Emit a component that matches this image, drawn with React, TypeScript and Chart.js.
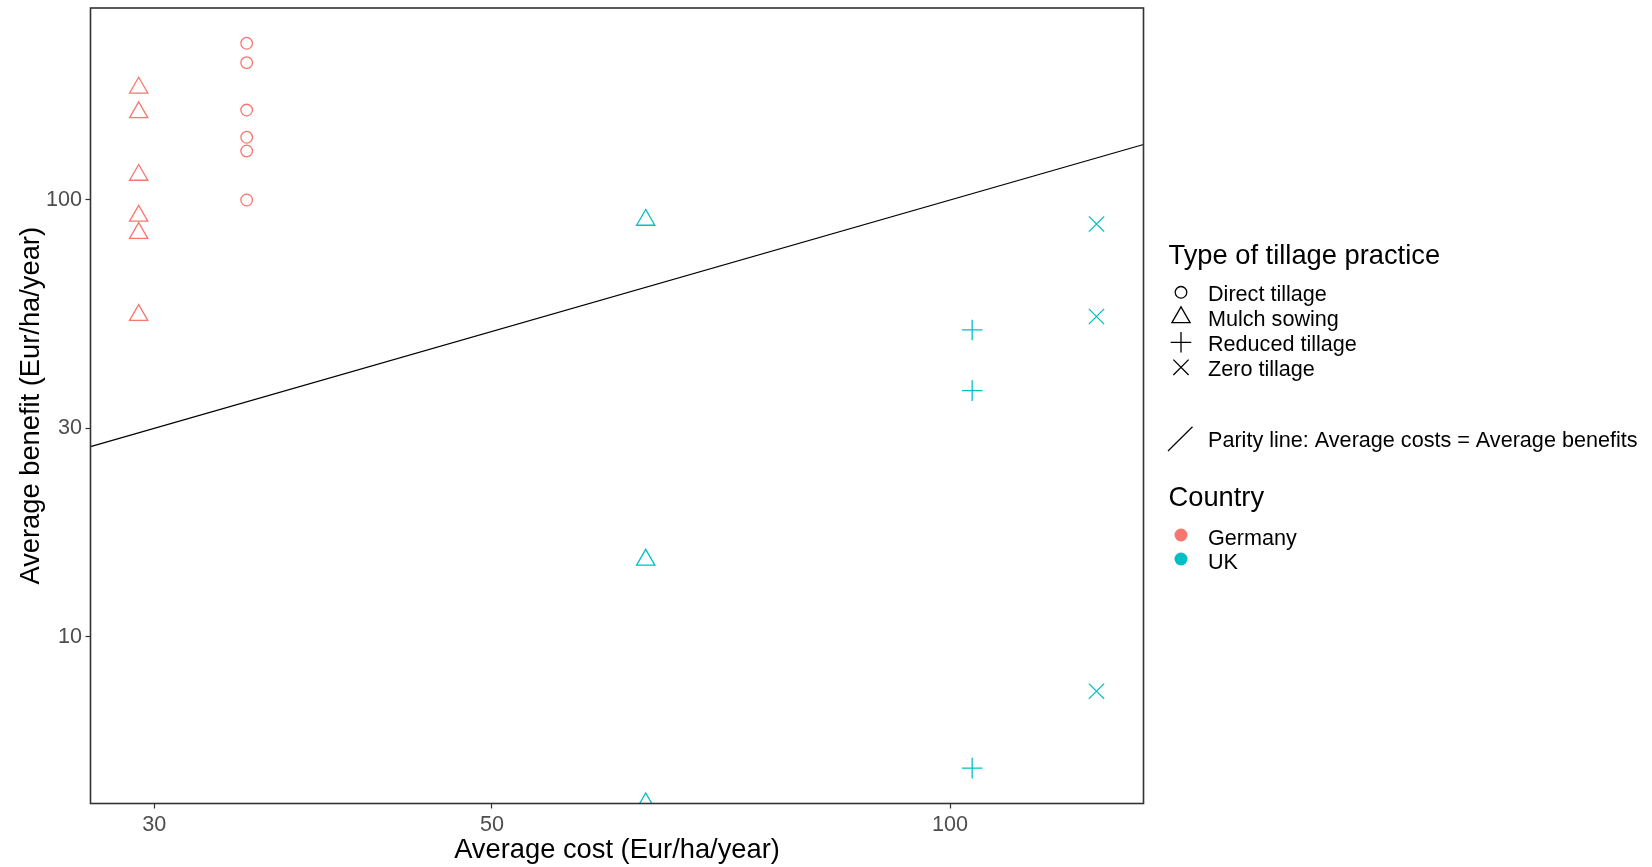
import { useEffect, useRef } from "react";
import { Chart, registerables } from "chart.js";

Chart.register(...registerables);

const FONT = '"Liberation Sans", Arial, Helvetica, sans-serif';
const GERMANY = "#F8766D";
const UK = "#00BFC4";

// Average cost per practice and country (x) with the benefits reported for it (y)
const germanyDirectCost = 34.5;
const germanyDirectBenefits = [228.5, 206.3, 160.7, 139.2, 129.5, 100];
const germanyMulchCost = 29.3;
const germanyMulchBenefits = [180.7, 158.7, 114.1, 92.0, 84.0, 54.5];
const ukMulchCost = 63.1;
const ukMulchBenefits = [90, 15, 4.15];
const ukReducedCost = 103.4;
const ukReducedBenefits = [50.4, 36.6, 5.0];
const ukZeroCost = 124.8;
const ukZeroBenefits = [88.1, 54.1, 7.5];

// Axis ticks and log-axis limits
const xTicks = [30, 50, 100];
const yTicks = [10, 30, 100];
const xRange = [27.24, 134.0];
const yRange = [4.15, 275.2];

const shapeLegend = [
  { label: "Direct tillage", style: "circle" },
  { label: "Mulch sowing", style: "triangle" },
  { label: "Reduced tillage", style: "cross" },
  { label: "Zero tillage", style: "crossRot" },
];
const countryLegend = [
  { label: "Germany", color: GERMANY },
  { label: "UK", color: UK },
];
const parityLabel = "Parity line: Average costs = Average benefits";

const pointRadius: Record<string, number> = {
  circle: 5.8,
  triangle: 10.5,
  cross: 10.3,
  crossRot: 10.8,
};

const toPoints = (cost: number, benefits: number[]) =>
  benefits.map((b) => ({ x: cost, y: b }));

function pointSet(label: string, cost: number, benefits: number[], style: string, color: string) {
  return {
    type: "scatter" as const,
    label,
    data: toPoints(cost, benefits),
    pointStyle: style,
    pointRadius: pointRadius[style],
    pointHoverRadius: pointRadius[style],
    pointBorderColor: color,
    pointBackgroundColor: "rgba(0,0,0,0)",
    pointBorderWidth: 1.3,
    borderColor: color,
    backgroundColor: "rgba(0,0,0,0)",
    showLine: false,
  };
}

function drawShape(ctx: CanvasRenderingContext2D, style: string, x: number, y: number, color: string) {
  const r = pointRadius[style];
  ctx.save();
  ctx.strokeStyle = color;
  ctx.lineWidth = 1.3;
  ctx.beginPath();
  if (style === "circle") {
    ctx.arc(x, y, r, 0, Math.PI * 2);
  } else if (style === "triangle") {
    for (let k = 0; k < 3; k++) {
      const a = (k * 2 * Math.PI) / 3;
      const px = x + Math.sin(a) * r;
      const py = y - Math.cos(a) * r;
      if (k === 0) ctx.moveTo(px, py);
      else ctx.lineTo(px, py);
    }
    ctx.closePath();
  } else if (style === "cross") {
    ctx.moveTo(x - r, y);
    ctx.lineTo(x + r, y);
    ctx.moveTo(x, y - r);
    ctx.lineTo(x, y + r);
  } else {
    const d = r * Math.SQRT1_2;
    ctx.moveTo(x - d, y - d);
    ctx.lineTo(x + d, y + d);
    ctx.moveTo(x + d, y - d);
    ctx.lineTo(x - d, y + d);
  }
  ctx.stroke();
  ctx.restore();
}

const panelBorder = {
  id: "panelBorder",
  beforeDraw(chart: any) {
    const { ctx, width, height } = chart;
    ctx.save();
    ctx.fillStyle = "#FFFFFF";
    ctx.fillRect(0, 0, width, height);
    ctx.restore();
  },
  afterDatasetsDraw(chart: any) {
    const { ctx, chartArea } = chart;
    ctx.save();
    ctx.strokeStyle = "#333333";
    ctx.lineWidth = 1.6;
    ctx.strokeRect(chartArea.left, chartArea.top, chartArea.right - chartArea.left, chartArea.bottom - chartArea.top);
    ctx.restore();
  },
};

const legendPlugin = {
  id: "tillageLegend",
  afterDraw(chart: any) {
    const { ctx, chartArea } = chart;
    const left = chartArea.right + 25;
    const keyX = left + 12.5;
    const textX = left + 39.5;
    ctx.save();
    ctx.textAlign = "left";
    ctx.textBaseline = "alphabetic";
    ctx.fillStyle = "#000000";

    ctx.font = `27.3px ${FONT}`;
    ctx.fillText("Type of tillage practice", left, 264);

    ctx.font = `21.6px ${FONT}`;
    shapeLegend.forEach((item, i) => {
      const base = 301 + i * 25;
      drawShape(ctx, item.style, keyX, base - 8.7, "#000000");
      ctx.fillText(item.label, textX, base);
    });

    ctx.strokeStyle = "#000000";
    ctx.lineWidth = 1.2;
    ctx.beginPath();
    ctx.moveTo(left - 0.5, 451);
    ctx.lineTo(left + 24, 426.7);
    ctx.stroke();
    ctx.fillText(parityLabel, textX, 447);

    ctx.font = `27.3px ${FONT}`;
    ctx.fillText("Country", left, 506);

    ctx.font = `21.6px ${FONT}`;
    countryLegend.forEach((item, i) => {
      const base = 544.5 + i * 24;
      ctx.fillStyle = item.color;
      ctx.beginPath();
      ctx.arc(keyX, base - 9.5, 6.5, 0, Math.PI * 2);
      ctx.fill();
      ctx.fillStyle = "#000000";
      ctx.fillText(item.label, textX, base);
    });
    ctx.restore();
  },
};

export default function App() {
  const canvasRef = useRef<HTMLCanvasElement>(null);

  useEffect(() => {
    const canvas = canvasRef.current;
    if (!canvas) return;

    const tickFont = { family: FONT, size: 21.6 };
    const titleFont = { family: FONT, size: 27.3 };

    const chart = new Chart(canvas, {
      type: "scatter",
      data: {
        datasets: [
          {
            type: "line",
            label: "Parity line",
            data: [
              { x: xRange[0], y: xRange[0] },
              { x: xRange[1], y: xRange[1] },
            ],
            borderColor: "#000000",
            borderWidth: 1.2,
            pointRadius: 0,
            pointHoverRadius: 0,
            fill: false,
            showLine: true,
            tension: 0,
          } as any,
          pointSet("Germany · Direct tillage", germanyDirectCost, germanyDirectBenefits, "circle", GERMANY),
          pointSet("Germany · Mulch sowing", germanyMulchCost, germanyMulchBenefits, "triangle", GERMANY),
          pointSet("UK · Mulch sowing", ukMulchCost, ukMulchBenefits, "triangle", UK),
          pointSet("UK · Reduced tillage", ukReducedCost, ukReducedBenefits, "cross", UK),
          pointSet("UK · Zero tillage", ukZeroCost, ukZeroBenefits, "crossRot", UK),
        ] as any,
      },
      options: {
        responsive: false,
        animation: false,
        devicePixelRatio: 1,
        layout: {
          autoPadding: false,
          padding: { left: 0, top: 8, right: 1652 - 1143.5, bottom: 0 },
        },
        plugins: {
          legend: { display: false },
          tooltip: { enabled: false },
        },
        events: [],
        scales: {
          x: {
            type: "logarithmic",
            min: xRange[0],
            max: xRange[1],
            bounds: "data",
            afterBuildTicks: (scale: any) => {
              scale.ticks = xTicks.map((v) => ({ value: v }));
            },
            afterFit: (scale: any) => {
              scale.height = 63.5;
              scale.paddingLeft = 0;
              scale.paddingRight = 0;
            },
            ticks: {
              autoSkip: false,
              maxRotation: 0,
              minRotation: 0,
              color: "#4D4D4D",
              font: tickFont,
              padding: 4,
              callback: (v: any) => String(v),
            },
            grid: {
              drawOnChartArea: false,
              drawTicks: true,
              tickLength: 5,
              tickWidth: 1.2,
              tickColor: "#333333",
            },
            border: { display: false },
            title: {
              display: true,
              text: "Average cost (Eur/ha/year)",
              color: "#000000",
              font: titleFont,
              padding: { top: 0, bottom: 0 },
            },
          },
          y: {
            type: "logarithmic",
            min: yRange[0],
            max: yRange[1],
            bounds: "data",
            afterBuildTicks: (scale: any) => {
              scale.ticks = yTicks.map((v) => ({ value: v }));
            },
            afterFit: (scale: any) => {
              scale.width = 90.5;
              scale.paddingTop = 0;
              scale.paddingBottom = 0;
            },
            ticks: {
              autoSkip: false,
              color: "#4D4D4D",
              font: tickFont,
              padding: 3.5,
              callback: (v: any) => String(v),
            },
            grid: {
              drawOnChartArea: false,
              drawTicks: true,
              tickLength: 5,
              tickWidth: 1.2,
              tickColor: "#333333",
            },
            border: { display: false },
            title: {
              display: true,
              text: "Average benefit (Eur/ha/year)",
              color: "#000000",
              font: titleFont,
              padding: { top: 15.5, bottom: 0 },
            },
          },
        },
      } as any,
      plugins: [panelBorder, legendPlugin],
    });

    return () => chart.destroy();
  }, []);

  return (
    <div style={{ position: "absolute", left: 0, top: 0, width: 1652, height: 867, background: "#FFFFFF" }}>
      <canvas ref={canvasRef} width={1652} height={867} style={{ display: "block", width: 1652, height: 867 }} />
    </div>
  );
}
